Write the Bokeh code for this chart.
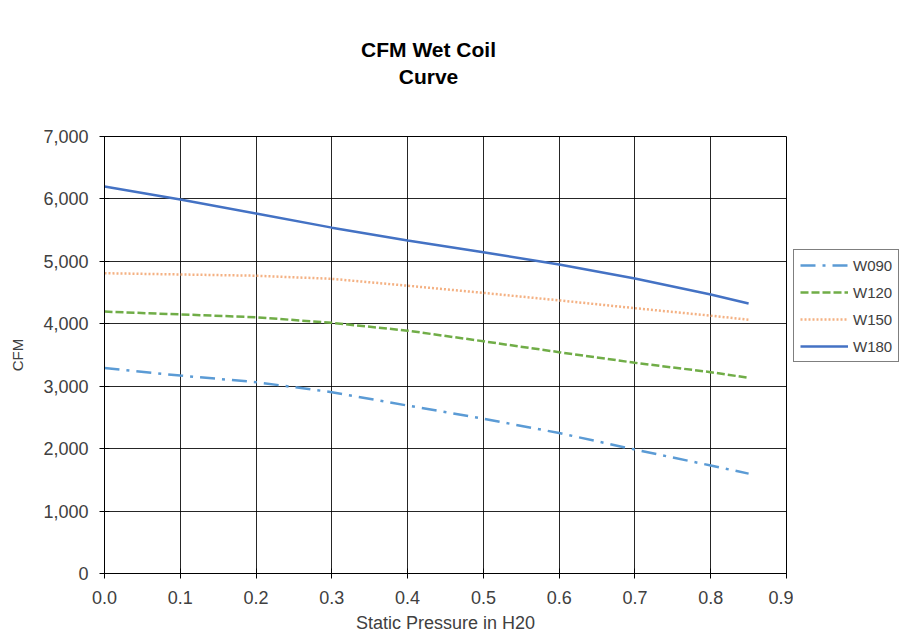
from bokeh.plotting import figure
from bokeh.layouts import row, column
from bokeh.models import Legend, LegendItem, FixedTicker, NumeralTickFormatter, Range1d, Label
from bokeh.embed import file_html
from bokeh.resources import INLINE

pressure = [0.0, 0.1, 0.2, 0.3, 0.4, 0.5, 0.6, 0.7, 0.8, 0.85]
w090 = [3290, 3170, 3065, 2905, 2690, 2480, 2250, 1985, 1730, 1600]
w120 = [4195, 4150, 4105, 4015, 3890, 3720, 3545, 3375, 3225, 3135]
w150 = [4810, 4790, 4770, 4720, 4610, 4495, 4375, 4250, 4130, 4065]
w180 = [6200, 5990, 5765, 5540, 5335, 5145, 4950, 4725, 4470, 4325]
series_names = ["W090", "W120", "W150", "W180"]
series_values = [w090, w120, w150, w180]
x_ticks = [0.0, 0.1, 0.2, 0.3, 0.4, 0.5, 0.6, 0.7, 0.8, 0.9]
y_ticks = [0, 1000, 2000, 3000, 4000, 5000, 6000, 7000]
title_lines = ["CFM Wet Coil", "Curve"]

FONT = "Liberation Sans"
styles = [
    dict(line_color="#5B9BD5", line_width=2.5, line_dash="15 7 3 7"),
    dict(line_color="#70AD47", line_width=2.5, line_dash="8 3"),
    dict(line_color="#F4B183", line_width=2.5, line_dash="2 2"),
    dict(line_color="#4472C4", line_width=2.5, line_dash="solid"),
]

# title strip
tf = figure(width=900, height=100, output_backend="svg", toolbar_location=None, title=None,
            x_range=Range1d(0, 0.9), y_range=Range1d(0, 100),
            min_border_left=104, min_border_right=114, min_border_top=0, min_border_bottom=0)
tf.axis.visible = False
tf.grid.visible = False
tf.outline_line_color = None
tf.background_fill_color = "white"
tf.border_fill_color = "white"
for txt, yy in zip(title_lines, [51, 24.5]):
    tf.add_layout(Label(x=0.4276, y=yy, text=txt, text_align="center", text_baseline="middle",
                        text_font=FONT, text_font_size="21px", text_font_style="bold",
                        text_color="black"))

p = figure(width=793, height=535, output_backend="svg", toolbar_location=None, title=None,
           x_range=Range1d(0, 0.9), y_range=Range1d(0, 7000),
           min_border_left=104, min_border_right=7, min_border_top=36, min_border_bottom=58)
p.background_fill_color = "white"
p.border_fill_color = "white"
p.outline_line_color = "black"
p.outline_line_width = 1

for ax in (p.xaxis[0], p.yaxis[0]):
    ax.axis_line_color = "black"
    ax.major_tick_line_color = "black"
    ax.major_tick_in = 5
    ax.major_tick_out = 5
    ax.minor_tick_line_color = None
    ax.major_label_text_font = FONT
    ax.major_label_text_font_size = "18px"
    ax.major_label_text_color = "#404040"
    ax.axis_label_text_font = FONT
    ax.axis_label_text_font_size = "18px"
    ax.axis_label_text_font_style = "normal"
    ax.axis_label_text_color = "#404040"

p.xaxis.ticker = FixedTicker(ticks=x_ticks)
p.xaxis.formatter = NumeralTickFormatter(format="0.0")
p.xaxis.axis_label = "Static Pressure in H20"
p.xaxis.axis_label_standoff = 6
p.xaxis.major_label_standoff = 12
p.yaxis.ticker = FixedTicker(ticks=y_ticks)
p.yaxis.formatter = NumeralTickFormatter(format="0,0")
p.yaxis.axis_label = "CFM"
p.yaxis.axis_label_text_font_size = "15px"
p.yaxis.axis_label_standoff = 14
p.yaxis.major_label_standoff = 11

p.xgrid.grid_line_color = "black"
p.ygrid.grid_line_color = "black"
p.xgrid.grid_line_alpha = 0.85
p.ygrid.grid_line_alpha = 0.85

for vals, st in zip(series_values, styles):
    p.line(pressure, vals, **st)

# legend panel (separate figure to the right, its lines lie outside its view)
lf = figure(width=107, height=535, output_backend="svg", toolbar_location=None, title=None,
            x_range=Range1d(10, 11), y_range=Range1d(0, 7000),
            min_border_left=0, min_border_right=0, min_border_top=0, min_border_bottom=0)
lf.axis.visible = False
lf.grid.visible = False
lf.outline_line_color = None
lf.background_fill_color = "white"
lf.border_fill_color = "white"
items = []
for name, vals, st in zip(series_names, series_values, styles):
    r = lf.line(pressure, vals, **st)
    items.append(LegendItem(label=name, renderers=[r]))

legend = Legend(items=items, location=(0, 211))
legend.border_line_color = "black"
legend.border_line_width = 1
legend.background_fill_color = "white"
legend.label_text_font = FONT
legend.label_text_font_size = "15px"
legend.label_text_color = "#404040"
legend.glyph_width = 48
legend.glyph_height = 18
legend.spacing = 9
legend.padding = 6
legend.margin = 0
legend.label_standoff = 5
lf.add_layout(legend, "center")

layout = column(tf, row(p, lf))
open("out.html", "w").write(file_html(layout, INLINE))
